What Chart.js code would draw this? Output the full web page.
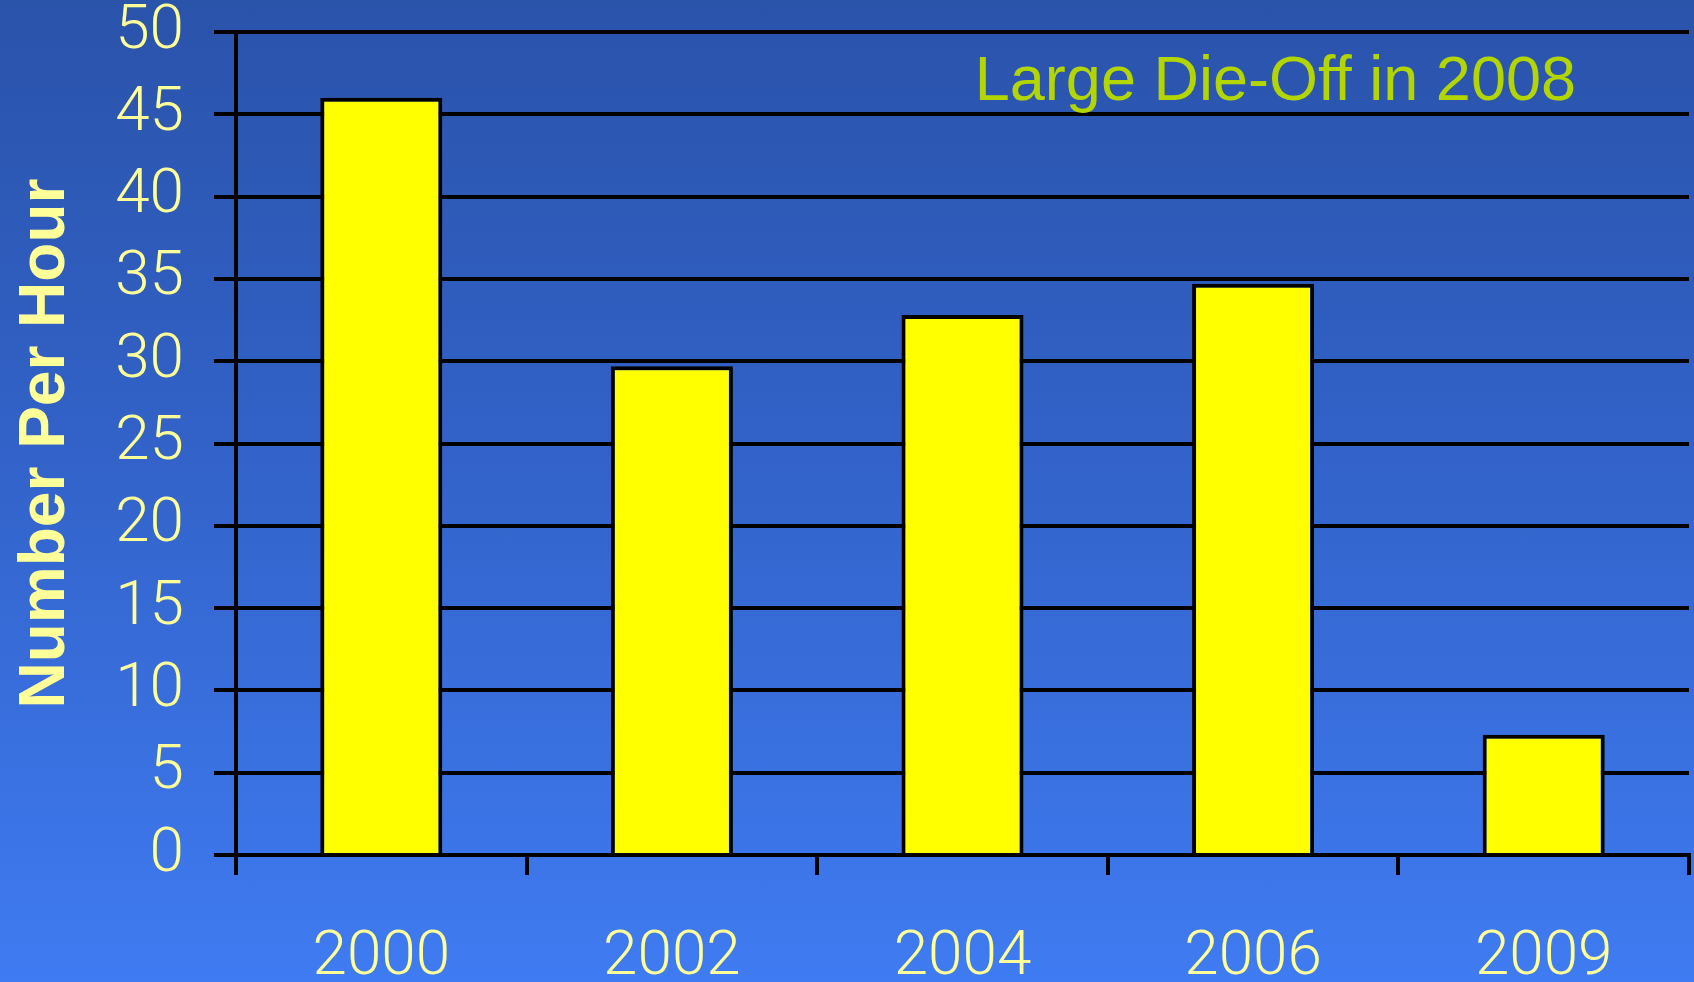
<!DOCTYPE html>
<html>
<head>
<meta charset="utf-8">
<script src="https://cdn.jsdelivr.net/npm/chart.js@4"></script>
<style>
  html, body { margin: 0; padding: 0; }
  #wrap {
    width: 1694px; height: 982px;
    background: linear-gradient(to bottom, #2a53aa 0%, #3262c8 45%, #3f7bf2 100%);
  }
</style>
</head>
<body>
<div id="wrap"><canvas id="myChart" width="1694" height="982"></canvas></div>
<script>
// Données du graphique
const years = ['2000', '2002', '2004', '2006', '2009'];
const perHour = [46, 29.7, 32.8, 34.7, 7.3];
const yMax = 50;
const yStep = 5;
const note = 'Large Die-Off in 2008';

// Texte annoté en haut à droite
const notePlugin = {
    id: 'note',
    afterDraw(chart) {
        const ctx = chart.ctx;
        const area = chart.chartArea;
        const y = chart.scales.y.getPixelForValue(46.9);
        ctx.save();
        ctx.font = '63px "Liberation Sans", Arial, sans-serif';
        ctx.fillStyle = '#b4d600';
        ctx.textAlign = 'right';
        ctx.textBaseline = 'middle';
        ctx.fillText(note, area.right - 113, y);
        ctx.restore();
    }
};

const ctx = document.getElementById('myChart').getContext('2d');
const myChart = new Chart(ctx, {
    type: 'bar',
    data: {
        labels: years,
        datasets: [{
            data: perHour,
            backgroundColor: '#ffff00',
            borderColor: '#000000',
            borderWidth: 4,
            barPercentage: 0.42,
            categoryPercentage: 1
        }]
    },
    options: {
        responsive: false,
        animation: false,
        layout: { padding: { top: 32, right: 5, left: 0, bottom: 0 } },
        plugins: {
            legend: { display: false },
            tooltip: { enabled: false }
        },
        scales: {
            x: {
                afterFit(scale) { scale.height = 127; },
                grid: {
                    offset: true,
                    drawOnChartArea: false,
                    color: '#000000',
                    lineWidth: 4,
                    tickLength: 20
                },
                border: { color: '#000000', width: 4 },
                ticks: {
                    color: '#ffff99',
                    padding: 46,
                    font: { family: 'Roboto, "Liberation Sans", sans-serif', size: 62, weight: 300 }
                }
            },
            y: {
                min: 0,
                max: yMax,
                afterFit(scale) {
                    scale.width = 236;
                    scale.paddingTop = 0;
                    scale.paddingBottom = 0;
                },
                grid: {
                    color: '#000000',
                    lineWidth: 4,
                    tickLength: 22
                },
                border: { color: '#000000', width: 4 },
                ticks: {
                    stepSize: yStep,
                    color: '#ffff99',
                    padding: 30,
                    font: { family: 'Roboto, "Liberation Sans", sans-serif', size: 62, weight: 300 }
                },
                title: {
                    display: true,
                    text: 'Number Per Hour',
                    color: '#ffff99',
                    padding: { top: 8, bottom: 0 },
                    font: { family: '"Liberation Sans", Arial, sans-serif', size: 64, weight: 'bold' }
                }
            }
        }
    },
    plugins: [notePlugin]
});
</script>
</body>
</html>
